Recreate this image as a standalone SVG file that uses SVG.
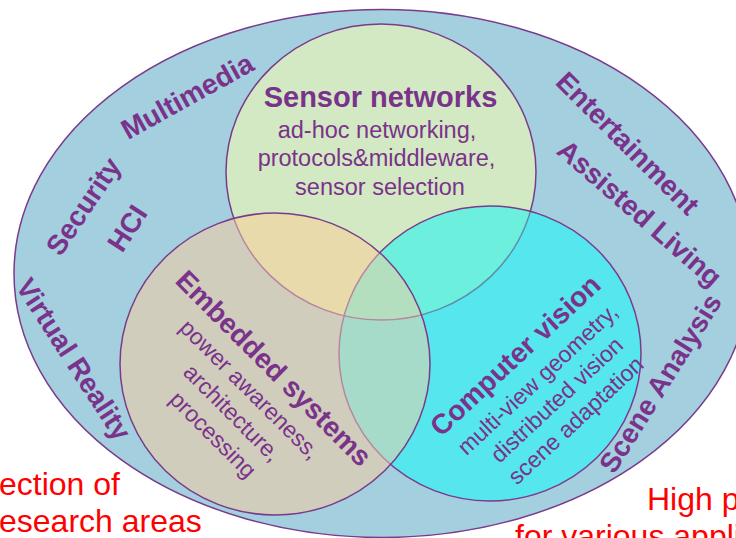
<svg xmlns="http://www.w3.org/2000/svg" xmlns:xlink="http://www.w3.org/1999/xlink" width="736" height="538" viewBox="0 0 736 538">
<style>
.edge{fill:none;stroke:#7a3b8c;stroke-width:1.5}
.lbl{font-family:"Liberation Sans",Arial,sans-serif;fill:#7a338a;text-anchor:middle}
.b{font-weight:bold;font-size:28px}
.t{font-size:23px}
.red{font-family:"Liberation Sans",Arial,sans-serif;fill:#ff0000;font-size:32px}
</style>
<defs>
<ellipse id="eO" cx="382" cy="273.5" rx="368" ry="264"/>
<ellipse id="eG" cx="381" cy="172" rx="155" ry="148"/>
<ellipse id="eT" cx="275" cy="364" rx="155" ry="151"/>
<ellipse id="eC" cx="490" cy="353.5" rx="151" ry="147.5"/>
<clipPath id="clipG"><use xlink:href="#eG"/></clipPath>
<clipPath id="clipT"><use xlink:href="#eT"/></clipPath>
<clipPath id="clipC"><use xlink:href="#eC"/></clipPath>
</defs>

<g id="application-space">
<use xlink:href="#eO" fill="#a4cfdf"/>
<use xlink:href="#eO" class="edge"/>
<text class="lbl b" transform="translate(187 96) rotate(-29)" y="10">Multimedia</text>
<text class="lbl b" transform="translate(83 206) rotate(-56)" y="10">Security</text>
<text class="lbl b" transform="translate(127 228) rotate(-57)" y="10">HCI</text>
<text class="lbl b" transform="translate(74 359) rotate(57)" y="10">Virtual Reality</text>
<text class="lbl b" transform="translate(628 143) rotate(45)" y="10">Entertainment</text>
<text class="lbl b" transform="translate(640 213) rotate(41)" y="10">Assisted Living</text>
<text class="lbl b" transform="translate(660 383) rotate(-58)" y="10">Scene Analysis</text>
</g>

<g id="sensor-networks">
<use xlink:href="#eG" fill="#d3e9c3"/>
<use xlink:href="#eG" class="edge"/>
<text class="lbl b" x="380.5" y="107" style="font-size:29px">Sensor networks</text>
<text class="lbl t" x="377" y="137.5" style="font-size:23.5px">ad-hoc networking,</text>
<text class="lbl t" x="376.5" y="166" style="font-size:23.5px">protocols&amp;middleware,</text>
<text class="lbl t" x="380" y="194.5" style="font-size:23.5px">sensor selection</text>
</g>

<g id="computer-vision">
<use xlink:href="#eC" fill="#56e6ee"/>
<use xlink:href="#eC" fill="#6cf0dd" clip-path="url(#clipG)"/>
<use xlink:href="#eG" fill="none" stroke="#5f8fa8" stroke-width="1.5" clip-path="url(#clipC)"/>
<use xlink:href="#eC" class="edge"/>
<g transform="translate(515 355) rotate(-43)">
<text class="lbl b" y="10">Computer vision</text>
<text class="lbl t" y="41">multi-view geometry,</text>
<text class="lbl t" y="69">distributed vision</text>
<text class="lbl t" y="97">scene adaptation</text>
</g>
</g>

<g id="embedded-systems">
<use xlink:href="#eT" fill="#d1cdbc"/>
<use xlink:href="#eT" fill="#e9daab" clip-path="url(#clipG)"/>
<use xlink:href="#eT" fill="#a7dbc9" clip-path="url(#clipC)"/>
<g clip-path="url(#clipG)"><use xlink:href="#eT" fill="#b3dfbf" clip-path="url(#clipC)"/></g>
<g clip-path="url(#clipT)">
<use xlink:href="#eG" fill="none" stroke="#b8879f" stroke-width="1.5"/>
<use xlink:href="#eC" fill="none" stroke="#b8879f" stroke-width="1.5"/>
</g>
<use xlink:href="#eT" class="edge"/>
<g transform="translate(274 368) rotate(45)">
<text class="lbl b" y="10">Embedded systems</text>
<text class="lbl t" x="-2" y="40">power awareness,</text>
<text class="lbl t" x="2" y="69">architecture,</text>
<text class="lbl t" x="4" y="98">processing</text>
</g>
</g>

<g id="captions">
<text class="red" x="-1" y="495">ection of</text>
<text class="red" x="-1" y="532">esearch areas</text>
<text class="red" x="647" y="510">High p</text>
<text class="red" x="515" y="547">for various appli</text>
</g>
</svg>
